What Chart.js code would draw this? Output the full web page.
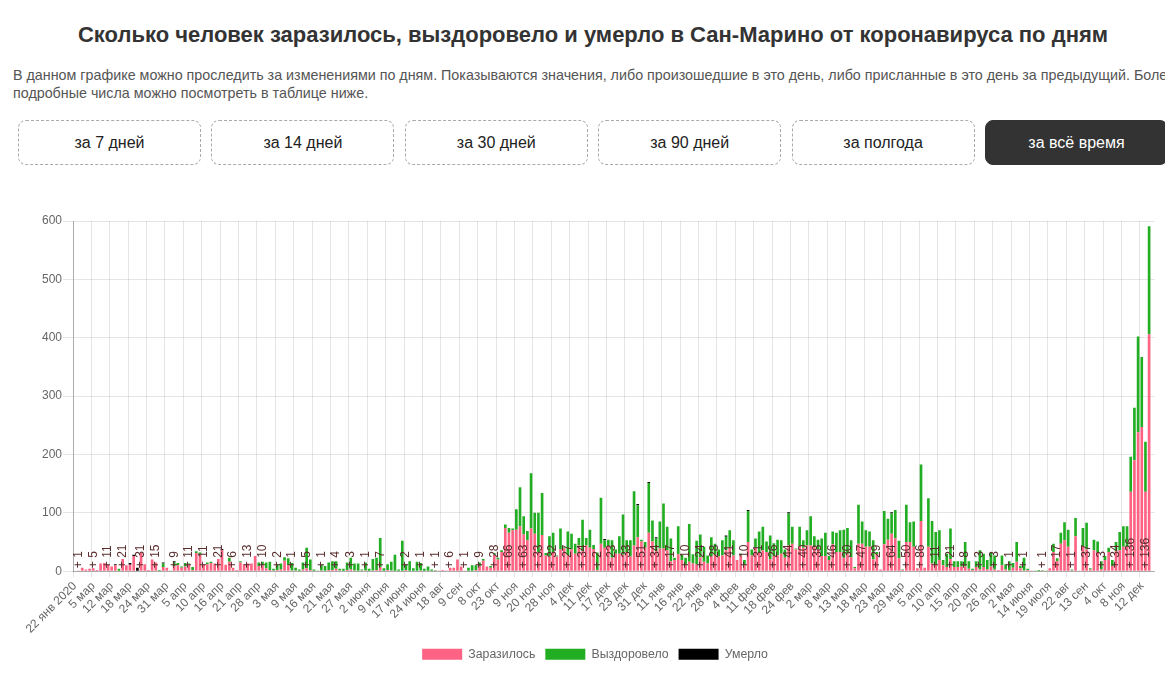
<!DOCTYPE html>
<html lang="ru">
<head>
<meta charset="utf-8">
<title>Сан-Марино — коронавирус по дням</title>
<script src="https://cdn.jsdelivr.net/npm/chart.js@4.4.1/dist/chart.umd.min.js"></script>
<style>
  html, body { margin: 0; padding: 0; background: #fff; overflow: hidden; }
  body { width: 1165px; height: 683px; position: relative; font-family: "Liberation Sans", Arial, sans-serif; }
  .title { position: absolute; left: 0; top: 21px; width: 1186px; margin: 0; text-align: center;
           font-size: 22px; font-weight: bold; color: #333; line-height: 28px; white-space: nowrap; }
  .desc { position: absolute; left: 13px; top: 66px; margin: 0; font-size: 14.3px; line-height: 18px;
          color: #555; white-space: nowrap; }
  .btns { position: absolute; left: 18px; top: 120px; white-space: nowrap; }
  .btn { display: inline-block; box-sizing: border-box; width: 183px; height: 45px; margin-right: 10.4px;
         border: 1px dashed #aaa; border-radius: 8px; text-align: center; line-height: 43px;
         font-size: 16px; color: #222; vertical-align: top; }
  .btn.active { background: #333; border: 1px solid #333; color: #fff; }
  .chart-box { position: absolute; left: 0; top: 200px; width: 1165px; height: 475px; }
</style>
</head>
<body>
<h1 class="title">Сколько человек заразилось, выздоровело и умерло в Сан-Марино от коронавируса по дням</h1>
<p class="desc">В данном графике можно проследить за изменениями по дням. Показываются значения, либо произошедшие в это день, либо присланные в это день за предыдущий. Более<br>подробные числа можно посмотреть в таблице ниже.</p>
<div class="btns">
  <div class="btn">за 7 дней</div><div class="btn">за 14 дней</div><div class="btn">за 30 дней</div><div class="btn">за 90 дней</div><div class="btn">за полгода</div><div class="btn active">за всё время</div>
</div>
<div class="chart-box"><canvas id="chart"></canvas></div>

<script>
// one label per 5 bars (the ones shown on the axis)
const tickDates = [
  "22 янв 2020", "5 мар", "12 мар", "18 мар", "24 мар", "31 мар", "5 апр", "10 апр", "16 апр", "21 апр",
  "28 апр", "3 мая", "9 мая", "16 мая", "21 мая", "27 мая", "2 июня", "9 июня", "17 июня", "24 июня",
  "18 авг", "9 сен", "8 окт", "23 окт", "9 ноя", "20 ноя", "28 ноя", "4 дек", "11 дек", "17 дек",
  "23 дек", "31 дек", "11 янв", "16 янв", "22 янв", "28 янв", "4 фев", "11 фев", "18 фев", "24 фев",
  "2 мар", "8 мар", "13 мар", "18 мар", "23 мар", "29 мар", "5 апр", "10 апр", "15 апр", "20 апр",
  "26 апр", "2 мая", "14 июня", "19 июля", "22 авг", "13 сен", "4 окт", "8 ноя", "12 дек"
];

const infected = [
  0, 1, 6, 3, 4, 5, 2, 13, 14, 11,
  8, 10, 0, 21, 10, 11, 26, 0, 31, 12,
  2, 20, 15, 0, 7, 6, 0, 9, 10, 6,
  8, 11, 2, 31, 28, 11, 12, 14, 13, 21,
  36, 11, 16, 6, 2, 15, 12, 13, 13, 26,
  9, 10, 5, 2, 1, 2, 3, 18, 10, 1,
  1, 0, 3, 5, 2, 0, 0, 1, 0, 2,
  2, 4, 1, 0, 2, 3, 1, 0, 1, 1,
  0, 1, 2, 7, 0, 2, 1, 0, 0, 0,
  2, 0, 0, 0, 1, 0, 0, 0, 1, 1,
  2, 1, 6, 6, 20, 8, 1, 0, 0, 2,
  9, 18, 8, 6, 28, 20, 33, 74, 66, 70,
  71, 77, 63, 53, 73, 64, 33, 62, 27, 25,
  32, 25, 37, 39, 27, 37, 30, 44, 34, 44,
  40, 38, 2, 47, 40, 43, 23, 30, 30, 28,
  33, 25, 44, 58, 51, 40, 66, 51, 34, 39,
  39, 36, 17, 19, 29, 19, 10, 16, 13, 12,
  24, 16, 13, 25, 28, 25, 27, 36, 41, 27,
  19, 27, 10, 50, 27, 40, 31, 36, 33, 20,
  26, 27, 30, 23, 44, 47, 37, 43, 40, 44,
  44, 41, 38, 26, 26, 19, 46, 33, 33, 23,
  30, 24, 5, 47, 47, 42, 42, 20, 29, 3,
  46, 54, 64, 56, 22, 2, 50, 50, 42, 5,
  86, 6, 42, 13, 11, 19, 10, 7, 21, 7,
  7, 8, 8, 4, 2, 7, 3, 7, 3, 8,
  3, 2, 10, 3, 1, 6, 16, 5, 1, 2,
  1, 0, 0, 1, 0, 5, 33, 17, 47, 53,
  42, 1, 60, 1, 42, 37, 3, 36, 33, 3,
  19, 33, 9, 34, 36, 42, 42, 136, 190, 238,
  247, 136, 406, 0
];

const recovered = [
  0, 0, 0, 0, 0, 0, 0, 0, 0, 0,
  0, 0, 4, 0, 0, 0, 0, 0, 0, 0,
  0, 0, 0, 2, 6, 0, 1, 6, 4, 2,
  6, 2, 5, 3, 4, 1, 3, 2, 0, 0,
  0, 0, 7, 0, 0, 2, 0, 0, 0, 0,
  6, 6, 10, 14, 3, 10, 10, 6, 12, 13,
  5, 3, 12, 35, 18, 3, 1, 10, 9, 13,
  15, 13, 3, 4, 13, 20, 12, 13, 2, 14,
  4, 20, 21, 50, 5, 10, 15, 28, 3, 52,
  10, 17, 5, 16, 13, 4, 8, 3, 1, 0,
  0, 0, 0, 0, 0, 0, 0, 6, 10, 8,
  6, 3, 0, 3, 3, 3, 3, 6, 8, 3,
  35, 67, 31, 16, 95, 36, 67, 72, 4, 35,
  34, 2, 36, 2, 41, 27, 17, 13, 54, 13,
  31, 7, 30, 79, 13, 11, 30, 7, 30, 69,
  20, 28, 93, 55, 3, 10, 85, 36, 22, 46,
  77, 40, 39, 4, 48, 9, 13, 65, 16, 40,
  39, 26, 14, 33, 19, 12, 26, 23, 29, 26,
  0, 3, 9, 53, 10, 16, 37, 40, 18, 41,
  22, 27, 23, 14, 55, 29, 2, 33, 13, 26,
  50, 19, 16, 30, 40, 7, 22, 33, 37, 48,
  44, 29, 2, 67, 38, 28, 26, 33, 4, 0,
  57, 36, 35, 49, 30, 1, 64, 34, 43, 0,
  97, 0, 83, 73, 56, 51, 9, 23, 52, 10,
  10, 9, 42, 13, 2, 10, 33, 23, 16, 23,
  24, 0, 17, 9, 16, 8, 34, 4, 22, 2,
  0, 1, 2, 1, 1, 0, 14, 5, 19, 31,
  29, 2, 31, 0, 32, 46, 2, 18, 18, 14,
  7, 7, 10, 16, 31, 35, 35, 60, 90, 164,
  120, 86, 185, 0
];

const died = [
  0, 0, 0, 0, 0, 0, 0, 0, 0, 0,
  0, 2, 0, 0, 0, 3, 2, 6, 0, 0,
  0, 0, 0, 0, 2, 0, 0, 2, 0, 0,
  0, 0, 0, 0, 0, 0, 0, 0, 0, 0,
  2, 0, 0, 0, 0, 0, 0, 0, 0, 0,
  0, 0, 0, 0, 0, 0, 0, 0, 0, 0,
  0, 0, 0, 0, 0, 0, 0, 0, 0, 0,
  0, 0, 0, 0, 0, 0, 0, 0, 0, 0,
  0, 0, 0, 0, 0, 0, 0, 0, 0, 0,
  0, 0, 0, 0, 0, 0, 0, 0, 0, 0,
  0, 0, 0, 0, 0, 0, 0, 0, 0, 0,
  0, 0, 0, 0, 0, 0, 0, 0, 0, 0,
  0, 0, 0, 0, 0, 0, 0, 0, 0, 0,
  0, 0, 0, 0, 0, 0, 0, 0, 0, 0,
  0, 0, 0, 0, 2, 0, 0, 0, 0, 0,
  0, 0, 0, 2, 0, 0, 2, 0, 2, 0,
  0, 0, 0, 0, 0, 0, 0, 0, 0, 0,
  0, 0, 0, 0, 0, 0, 0, 2, 0, 0,
  0, 0, 0, 2, 0, 0, 0, 0, 0, 0,
  0, 0, 0, 0, 2, 0, 0, 0, 0, 0,
  0, 0, 0, 0, 0, 0, 0, 0, 0, 0,
  0, 0, 0, 0, 0, 0, 0, 0, 0, 0,
  0, 0, 2, 0, 0, 0, 0, 0, 0, 0,
  0, 0, 0, 0, 0, 0, 0, 0, 0, 0,
  0, 0, 0, 0, 0, 0, 0, 0, 0, 0,
  0, 0, 0, 0, 0, 0, 0, 0, 0, 0,
  0, 0, 0, 0, 0, 0, 0, 0, 0, 0,
  0, 0, 0, 0, 0, 0, 0, 0, 0, 0,
  0, 0, 0, 0, 0, 0, 0, 0, 0, 0,
  0, 0, 0, 0
];

const yTicks = [0, 100, 200, 300, 400, 500, 600];

const STEP = 5; // every 5th day gets an axis label
const labels = infected.map((_, i) => (i % STEP === 0 ? tickDates[i / STEP] : ""));

const FONT = '"Liberation Sans", Arial, sans-serif';
Chart.defaults.font.family = FONT;
Chart.defaults.font.size = 12;
Chart.defaults.color = "#666";

// "+N" labels on the infected bars, hidden when they would overlap (like datalabels display:auto)
const plusLabels = {
  id: "plusLabels",
  afterDatasetsDraw(chart) {
    const meta = chart.getDatasetMeta(0);
    const y0 = chart.scales.y.getPixelForValue(0);
    const c = chart.ctx;
    c.save();
    c.font = "12px " + FONT;
    c.fillStyle = "#5a2d2d";
    c.textAlign = "left";
    c.textBaseline = "middle";
    let last = -Infinity;
    infected.forEach((v, i) => {
      if (!v) return;
      const x = meta.data[i].x;
      if (x - last < 13) return;
      last = x;
      c.save();
      c.translate(x, y0 - 3);
      c.rotate(-Math.PI / 2);
      c.fillText("+ " + v, 0, 0);
      c.restore();
    });
    c.restore();
  }
};

new Chart(document.getElementById("chart"), {
  type: "bar",
  data: {
    labels: labels,
    datasets: [
      { label: "Заразилось", data: infected, backgroundColor: "rgb(255,99,132)" },
      { label: "Выздоровело", data: recovered, backgroundColor: "rgb(34,174,34)" },
      { label: "Умерло", data: died, backgroundColor: "#000" }
    ]
  },
  options: {
    responsive: true,
    maintainAspectRatio: false,
    animation: false,
    layout: { padding: { left: 31, right: 6, top: 21, bottom: 4.5 } },
    plugins: {
      legend: {
        position: "bottom",
        labels: { boxWidth: 40, boxHeight: 11, padding: 10, color: "#666", font: { size: 12.3 } }
      },
      tooltip: { enabled: false }
    },
    scales: {
      x: {
        stacked: true,
        offset: true,
        grid: {
          offset: true,
          tickLength: 6,
          color: (ctx) => (ctx.index % STEP === 0 ? "rgba(0,0,0,0.1)" : "rgba(0,0,0,0)")
        },
        border: { color: "rgba(0,0,0,0.25)" },
        ticks: {
          autoSkip: false,
          minRotation: 45,
          maxRotation: 45,
          padding: 2,
          color: "#666",
          callback: (val, i) => labels[i]
        }
      },
      y: {
        stacked: true,
        min: 0,
        max: yTicks[yTicks.length - 1],
        afterBuildTicks: (axis) => { axis.ticks = yTicks.map((v) => ({ value: v })); },
        afterFit: (axis) => { axis.width += 10; },
        grid: { color: "rgba(0,0,0,0.1)", tickLength: 10 },
        border: { color: "rgba(0,0,0,0.25)" },
        ticks: { color: "#666", padding: 1 }
      }
    }
  },
  plugins: [plusLabels]
});
</script>
</body>
</html>
